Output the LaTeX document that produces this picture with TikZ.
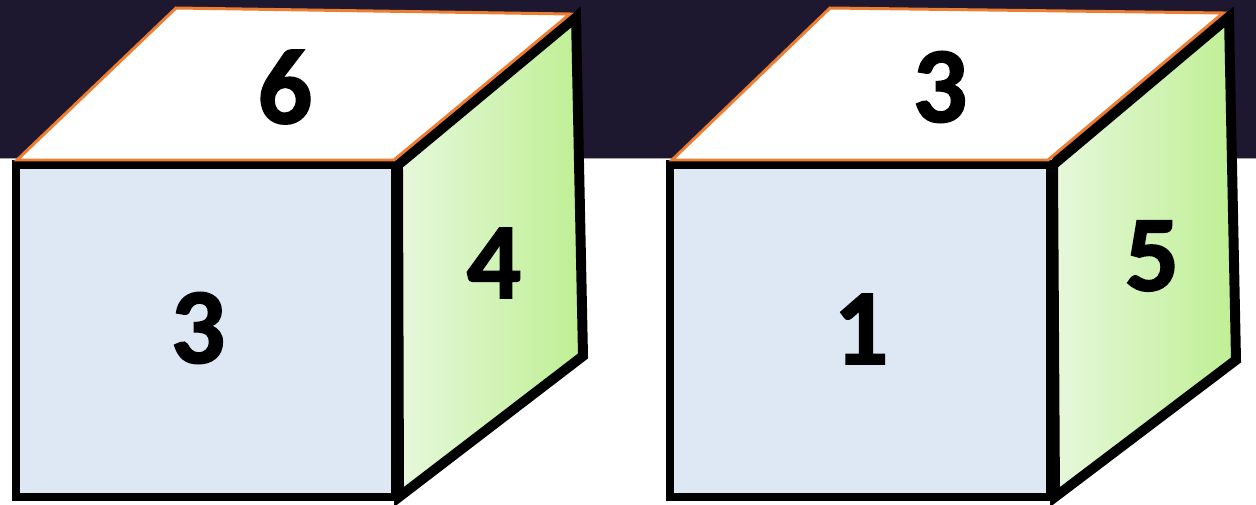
\documentclass[tikz,border=0pt]{standalone}
\usepackage{fontspec}
\setmainfont{Carlito}
\newfontfamily\digitfont[BoldFeatures={FakeBold=1.6}]{Carlito}
\definecolor{band}{HTML}{1D1830}
\definecolor{frontblue}{HTML}{DDE8F4}
\definecolor{greenL}{HTML}{E6F8DC}
\definecolor{greenR}{HTML}{BFEF93}
\definecolor{edgeorange}{HTML}{ED7D31}
\tikzset{
  topface/.style={fill=white, draw=edgeorange, line width=3pt, line join=miter},
  frontface/.style={fill=frontblue, draw=black, line width=8.5pt, line join=miter},
  sideface/.style={left color=greenL, right color=greenR, draw=black, line width=10pt, line join=miter},
  digit/.style={font=\fontsize{108}{108}\digitfont\bfseries, text=black, inner sep=0pt, anchor=center}
}
\begin{document}
\begin{tikzpicture}[x=1bp,y=-1bp]
\useasboundingbox (0,0) rectangle (1256,505);
\fill[white] (0,0) rectangle (1256,505);
\fill[band] (0,0) rectangle (1256,158);
\draw[gray!70, line width=1pt] (0,158.5) -- (1256,158.5);
% cube 1
\draw[frontface] (16,164.5) rectangle (395,497);
\draw[sideface] (398,165) -- (576,17) -- (583,356) -- (399,497) -- cycle;
\draw[topface] (17,160) -- (176,8) -- (570,14) -- (394,160) -- cycle;
\node[digit] (t1) at (285,87) {6};
\node[digit] (f1) at (198,328) {3};
\node[digit] (s1) at (494,263) {4};
% cube 2
\draw[frontface] (670,164.5) rectangle (1050,497);
\draw[sideface] (1053,165) -- (1229,17) -- (1236,360) -- (1055,497) -- cycle;
\draw[topface] (672,160) -- (830,8) -- (1223,13) -- (1048,160) -- cycle;
\node[digit] (t2) at (940,87) {3};
\node[digit] (f2) at (861,329) {1};
\node[digit] (s2) at (1152,256) {5};
\end{tikzpicture}
\end{document}
